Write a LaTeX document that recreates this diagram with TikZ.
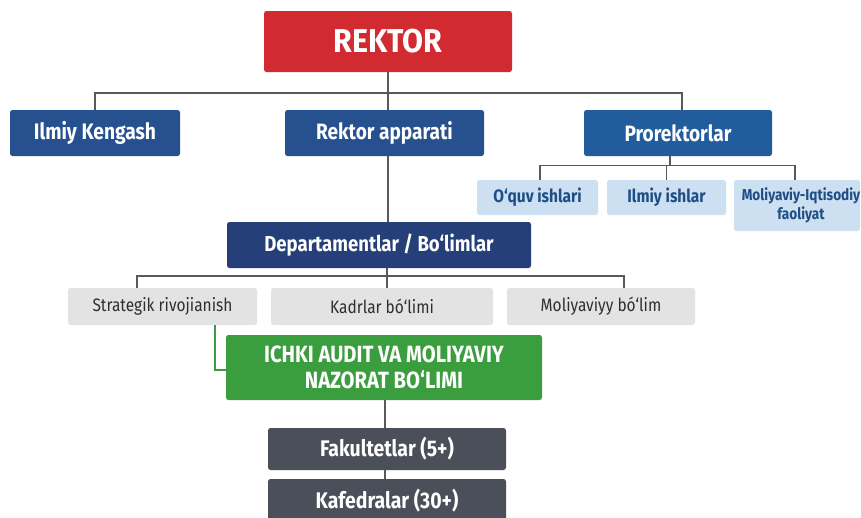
\documentclass[tikz,border=0pt]{standalone}
\usepackage{fontspec}
\setmainfont[FakeStretch=0.86]{Fira Sans}
\newfontfamily\rekfont[FakeStretch=0.92]{Fira Sans}
\usetikzlibrary{positioning}
\definecolor{cred}{HTML}{D12A30}
\definecolor{cblue}{HTML}{27508E}
\definecolor{cblueb}{HTML}{215C9D}
\definecolor{cdep}{HTML}{253F78}
\definecolor{clight}{HTML}{CCE0F1}
\definecolor{clighttext}{HTML}{1F4E86}
\definecolor{cgray}{HTML}{E3E3E3}
\definecolor{cgraytext}{HTML}{2E2E2E}
\definecolor{cgreen}{HTML}{3A9E3E}
\definecolor{cdark}{HTML}{4B4F59}
\definecolor{cline}{HTML}{595959}
\tikzset{
  box/.style={rectangle, rounded corners=2.5pt, inner sep=0pt, align=center, font=\bfseries},
  redbox/.style={box, fill=cred, text=white},
  bluebox/.style={box, fill=cblue, text=white},
  lightbox/.style={box, fill=clight, text=clighttext},
  graybox/.style={box, fill=cgray, text=cgraytext},
  greenbox/.style={box, fill=cgreen, text=white},
  darkbox/.style={box, fill=cdark, text=white},
  conn/.style={draw=cline, line width=1.6pt},
  gconn/.style={draw=cgreen, line width=1.6pt}
}
\begin{document}
\begin{tikzpicture}[x=1pt,y=-1pt]
\fill[white] (0,0) rectangle (861,517);
\useasboundingbox (0,0) rectangle (861,517);
\clip (0,0) rectangle (861,517);
% nodes
\node[redbox, minimum width=248pt, minimum height=61pt, font=\rekfont\bfseries\fontsize{33}{35}\selectfont] (rektor) at (388,41.5) {REKTOR};
\node[bluebox, minimum width=170pt, minimum height=46pt, font=\bfseries\fontsize{22.4}{24}\selectfont] (ilmiy) at (95,133) {Ilmiy Kengash};
\node[bluebox, minimum width=199pt, minimum height=46pt, font=\bfseries\fontsize{22.2}{24}\selectfont] (apparat) at (384.5,133) {Rektor apparati};
\node[box, fill=cblueb, text=white, minimum width=188pt, minimum height=46pt, font=\bfseries\fontsize{22.2}{24}\selectfont] (prorek) at (678,133) {Prorektorlar};
\node[lightbox, minimum width=121pt, minimum height=35pt, font=\bfseries\fontsize{18}{20}\selectfont] (oquv) at (537.5,197.5) {O‘quv ishlari};
\node[lightbox, minimum width=119pt, minimum height=35pt, font=\bfseries\fontsize{18}{20}\selectfont] (ilmish) at (666.5,197.5) {Ilmiy ishlar};
\node[lightbox, minimum width=126pt, minimum height=51pt] (moliq) at (797,205.5) {};
\node[text=clighttext, align=center, inner sep=0pt, font=\bfseries\fontsize{15.8}{18.5}\selectfont] (moliqt) at (801,205.5) {Moliyaviy-Iqtisodiy\\faoliyat};
\node[box, fill=cdep, text=white, minimum width=304pt, minimum height=46pt, font=\bfseries\fontsize{21.6}{24}\selectfont] (dep) at (379,245) {Departamentlar / Bo‘limlar};
\node[graybox, minimum width=189pt, minimum height=37pt, font=\fontsize{18}{20}\selectfont] (strat) at (162.5,306.5) {Strategik rivojianish};
\node[graybox, minimum width=222pt, minimum height=37pt, font=\fontsize{18}{20}\selectfont] (kadr) at (382,306.5) {Kadrlar bó‘limi};
\node[graybox, minimum width=188pt, minimum height=37pt, font=\fontsize{18}{20}\selectfont] (moliy) at (601,306.5) {Moliyaviyy bó‘lim};
\node[greenbox, minimum width=316pt, minimum height=65pt, font=\bfseries\fontsize{23.5}{26}\selectfont] (audit) at (384,367.5) {ICHKI AUDIT VA MOLIYAVIY\\NAZORAT BO‘LIMI};
\node[darkbox, minimum width=238pt, minimum height=42pt, font=\bfseries\fontsize{22.6}{24}\selectfont] (fak) at (387,449) {Fakultetlar (5+)};
\node[darkbox, minimum width=238pt, minimum height=44pt, font=\bfseries\fontsize{22.6}{24}\selectfont] (kaf) at (387,501) {Kafedralar (30+)};
% connectors
\coordinate (b1) at (388,93);
\draw[conn] (rektor.south) -- (b1);
\draw[conn] (ilmiy.north) |- (b1);
\draw[conn] (b1) -| ([xshift=4pt]prorek.north);
\draw[conn] (388,72) -- (apparat.north -| 388,0);
\coordinate (p1) at (670,165.5);
\draw[conn] (prorek.south -| 670,0) -- (p1);
\draw[conn] (oquv.north -| 540,0) |- (p1);
\draw[conn] (p1) -| (ilmish.north);
\draw[conn] (p1) -| (moliq.north -| 795,0);
\draw[conn] (apparat.south -| 388,0) -- (dep.north -| 388,0);
\coordinate (d1) at (387,276);
\draw[conn] (dep.south -| 387,0) -- (d1);
\draw[conn] (strat.north -| 137,0) |- (d1);
\draw[conn] (d1) -- (kadr.north -| 387,0);
\draw[conn] (d1) -| (moliy.north -| 624,0);
\draw[gconn] (strat.south -| 215,0) |- (audit.west |- 0,370);
\draw[conn] (audit.south -| 385,0) -- (fak.north -| 385,0);
\draw[conn] (fak.south -| 385,0) -- (kaf.north -| 385,0);
\end{tikzpicture}
\end{document}
